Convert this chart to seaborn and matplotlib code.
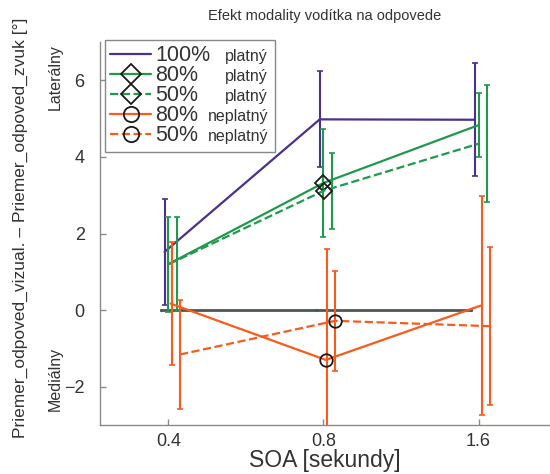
import matplotlib
matplotlib.use("Agg")
import matplotlib.pyplot as plt
from matplotlib.lines import Line2D
import seaborn as sns

sns.set_theme(style="ticks")
plt.rcParams['font.family'] = ['Liberation Sans', 'DejaVu Sans']

# data
soa_labels = ["0.4", "0.8", "1.6"]
zero_line = [0.0, 0.0, 0.0]

valid100 = [1.52, 4.98, 4.97]
valid100_err = [1.38, 1.25, 1.48]
valid80 = [1.20, 3.32, 4.83]
valid80_err = [1.24, 1.42, 0.84]
valid50 = [1.20, 3.12, 4.35]
valid50_err = [1.23, 0.99, 1.52]
invalid80 = [0.17, -1.30, 0.12]
invalid80_err = [1.60, 2.90, 2.87]
invalid50 = [-1.16, -0.28, -0.42]
invalid50_err = [1.42, 1.30, 2.06]

purple = "#4b2f91"
green = "#1f9a4a"
orange = "#fa5a1c"
gray = "#4f5656"

series = [
    # name, values, errors, color, linestyle, marker, line offset, errorbar offset
    ("100%", valid100, valid100_err, purple, "-", None, -0.024, -0.024),
    ("80%", valid80, valid80_err, green, "-", "D", 0.0, 0.0),
    ("50%", valid50, valid50_err, green, "--", "D", 0.004, 0.054),
    ("80%", invalid80, invalid80_err, orange, "-", "o", 0.015, 0.021),
    ("50%", invalid50, invalid50_err, orange, "--", "o", 0.075, 0.075),
]
suffixes = ["platný", "platný", "platný", "neplatný", "neplatný"]

fig = plt.figure(figsize=(5.5, 4.74), dpi=100)
ax = fig.add_axes([100 / 550, 1 - 425 / 474, 450 / 550, 383 / 474])

idx = list(range(len(soa_labels)))

sns.lineplot(x=[i - 0.05 for i in idx], y=zero_line, color=gray, lw=2,
             marker=".", markersize=3, markeredgecolor=gray, ax=ax)

handles = []
for name, vals, errs, col, ls, mk, off, eoff in series:
    ax.errorbar([i + eoff for i in idx], vals, yerr=errs, fmt="none",
                ecolor=col, elinewidth=1.5, capsize=2, capthick=1.2)
    kw = {}
    if mk:
        kw = dict(marker=mk, markevery=[1], markersize=9 if mk == "o" else 8,
                  markerfacecolor="none", markeredgecolor="k",
                  markeredgewidth=1.3)
    sns.lineplot(x=[i + off for i in idx], y=vals, color=col, linestyle=ls,
                 lw=1.6, ax=ax, **kw)
    handles.append(Line2D([], [], color=col, linestyle=ls, lw=1.6,
                          marker=mk if mk else "None",
                          markersize=11 if mk == "o" else 10,
                          markerfacecolor="none", markeredgecolor="k",
                          markeredgewidth=1.3))

ax.set_xlim(-0.44, 2.46)
ax.set_ylim(-3, 7)
ax.set_xticks(idx)
ax.set_xticklabels(soa_labels)
ax.set_yticks([-2, 0, 2, 4, 6])
ax.tick_params(direction="in", length=4, width=1, colors="#8a8a8a",
               labelcolor="#333333", labelsize=13)
ax.tick_params(axis="x", pad=6)
ax.tick_params(axis="y", pad=11)
for side in ["left", "bottom"]:
    ax.spines[side].set_color("#8a8a8a")
    ax.spines[side].set_linewidth(1)
sns.despine(ax=ax)

ax.set_xlabel("SOA [sekundy]", fontsize=16.5, color="#333333", labelpad=-1)
ax.set_ylabel("")
ax.set_title("Efekt modality vodítka na odpovede", fontsize=10.5,
             color="#333333", pad=16)

fig.text(20 / 550, 1 - 228 / 474,
         "Priemer_odpoved_vizual. – Priemer_odpoved_zvuk [°]",
         rotation=90, ha="center", va="center", fontsize=12.5, color="#333333")
fig.text(55 / 550, 1 - 77 / 474, "Laterálny", rotation=90, ha="center",
         va="center", fontsize=11.5, color="#333333")
fig.text(55 / 550, 1 - 379 / 474, "Mediálny", rotation=90, ha="center",
         va="center", fontsize=11.5, color="#333333")

leg = ax.legend(handles, [s[0] for s in series], loc="upper left",
                bbox_to_anchor=(5 / 450, 1.005, 170 / 450, 0), mode="expand",
                borderaxespad=0, fontsize=15.5, labelspacing=-0.05,
                handlelength=1.9, handletextpad=0.2, borderpad=0.25,
                frameon=True, fancybox=False, framealpha=1)
leg.get_frame().set_edgecolor("#888888")
leg.get_frame().set_linewidth(1)
for t in leg.get_texts():
    t.set_color("#333333")

fig.canvas.draw()
frame_bb = leg.get_frame().get_window_extent()
for t, suf in zip(leg.get_texts(), suffixes):
    bb = t.get_window_extent()
    fig.text((frame_bb.x1 - 7) / fig.bbox.width, (bb.y0 + 5) / fig.bbox.height,
             suf, ha="right", va="baseline", fontsize=11.5, color="#333333")

fig.savefig("out.png", dpi=100)
